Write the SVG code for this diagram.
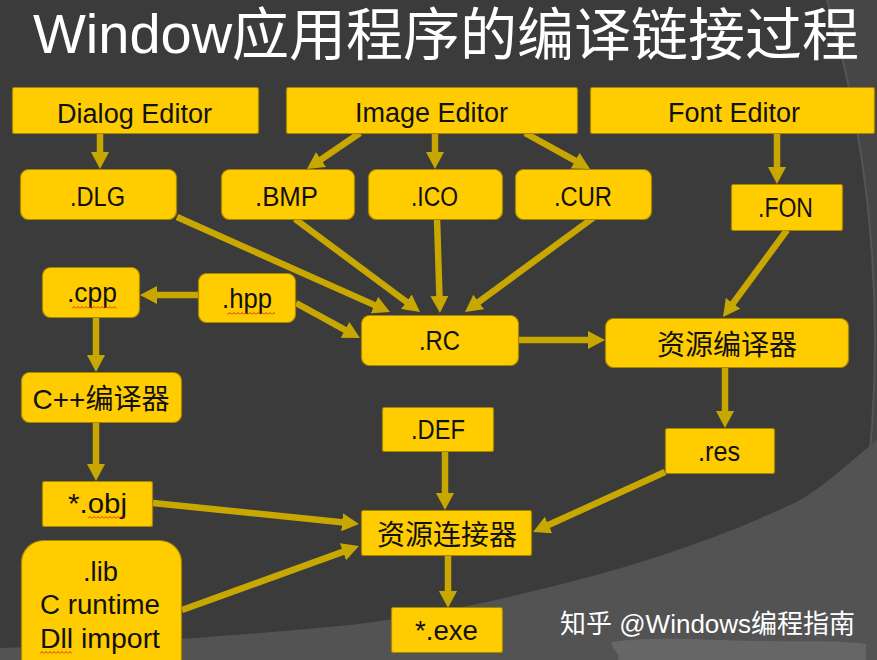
<svg xmlns="http://www.w3.org/2000/svg" width="877" height="660" viewBox="0 0 877 660">
<defs>
<style>
.box{fill:#ffcc00;stroke:#a88700;stroke-width:1.2}
.t{font-family:"Liberation Sans","Noto Sans CJK SC",sans-serif;font-size:27px;fill:#111}
.cj{font-family:"Liberation Sans","Noto Sans CJK SC",sans-serif;font-size:28px;fill:#111;text-anchor:middle}
.conn{stroke:#c8a800;stroke-width:6.5;fill:none;marker-end:url(#ah)}
</style>
<marker id="ah" viewBox="0 0 17 18" refX="2" refY="9" markerWidth="17" markerHeight="18" markerUnits="userSpaceOnUse" orient="auto">
<path d="M0,0 L17,9 L0,18 z" fill="#c8a800"/>
</marker>
<pattern id="sq" width="4" height="3" patternUnits="userSpaceOnUse">
<path d="M0,2.5 L2,0.5 L4,2.5" stroke="#d02020" stroke-width="0.9" fill="none"/>
</pattern>
</defs>

<!-- background -->
<rect width="877" height="660" fill="#464646"/>
<circle cx="-353" cy="340" r="1228" fill="#3b3b3b" stroke="#555555" stroke-width="2"/>
<path d="M0,648 C117,645 233,636 350,625 C423,617 497,601 570,582 C643,563 717,539 790,505 C819,492 848,463 877,440 L877,660 L0,660 Z" fill="#535353"/>
<path d="M612,642 C650,636 700,640 760,641 C800,642 840,640 866,644 L866,660 L618,660 C622,654 610,648 612,642 Z" fill="#6a6a6a" opacity="0.85"/>

<!-- title -->
<text x="33" y="53" font-family="Liberation Sans, sans-serif" font-size="56" fill="#ffffff">Window</text>
<text x="232" y="55" font-family="Noto Sans CJK SC, sans-serif" font-size="57" fill="#ffffff">应用程序的编译链接过程</text>

<!-- connectors -->
<g id="connectors">
<line class="conn" x1="100" y1="134" x2="100" y2="154"/>
<line class="conn" x1="360" y1="133" x2="319.4" y2="160.6"/>
<line class="conn" x1="435" y1="133" x2="435" y2="154"/>
<line class="conn" x1="525" y1="133" x2="576.9" y2="161.7"/>
<line class="conn" x1="777" y1="133" x2="777" y2="169"/>
<line class="conn" x1="177" y1="217" x2="376.3" y2="305.9"/>
<line class="conn" x1="295" y1="219" x2="408" y2="303"/>
<line class="conn" x1="437" y1="219" x2="439.5" y2="298"/>
<line class="conn" x1="597" y1="215" x2="477.1" y2="303.1"/>
<line class="conn" x1="198" y1="295" x2="155" y2="295"/>
<line class="conn" x1="296" y1="303" x2="346.8" y2="330.8"/>
<line class="conn" x1="519" y1="340" x2="590" y2="340"/>
<line class="conn" x1="787" y1="230" x2="731.9" y2="304.9"/>
<line class="conn" x1="96" y1="318" x2="96" y2="357"/>
<line class="conn" x1="725" y1="367" x2="725" y2="413"/>
<line class="conn" x1="96" y1="423" x2="96" y2="466"/>
<line class="conn" x1="445" y1="452" x2="445" y2="495"/>
<line class="conn" x1="665" y1="472" x2="546.7" y2="525.8"/>
<line class="conn" x1="153" y1="503" x2="344.1" y2="522.5"/>
<line class="conn" x1="182" y1="610" x2="344.9" y2="551.1"/>
<line class="conn" x1="448" y1="556" x2="448" y2="593"/>
</g>

<!-- nodes -->
<g id="dialog-editor">
<rect class="box" x="12.5" y="87.5" width="246" height="46" rx="2"/>
<text class="t" x="57" y="123" textLength="155" lengthAdjust="spacingAndGlyphs">Dialog Editor</text>
</g>
<g id="image-editor">
<rect class="box" x="286.5" y="87.5" width="291" height="46" rx="2"/>
<text class="t" x="355" y="122" textLength="153" lengthAdjust="spacingAndGlyphs">Image Editor</text>
</g>
<g id="font-editor">
<rect class="box" x="590.5" y="87.5" width="284" height="46" rx="2"/>
<text class="t" x="668" y="122" textLength="132" lengthAdjust="spacingAndGlyphs">Font Editor</text>
</g>
<g id="dlg">
<rect class="box" x="20.5" y="169.5" width="156" height="50" rx="8"/>
<text class="t" x="70" y="206" textLength="55" lengthAdjust="spacingAndGlyphs">.DLG</text>
</g>
<g id="bmp">
<rect class="box" x="221.5" y="169.5" width="133" height="50" rx="8"/>
<text class="t" x="255" y="206" textLength="63" lengthAdjust="spacingAndGlyphs">.BMP</text>
</g>
<g id="ico">
<rect class="box" x="368.5" y="169.5" width="134" height="50" rx="8"/>
<text class="t" x="411" y="206" textLength="47" lengthAdjust="spacingAndGlyphs">.ICO</text>
</g>
<g id="cur">
<rect class="box" x="515.5" y="169.5" width="136" height="50" rx="8"/>
<text class="t" x="554" y="206" textLength="58" lengthAdjust="spacingAndGlyphs">.CUR</text>
</g>
<g id="fon">
<rect class="box" x="731.5" y="184.5" width="111" height="46" rx="2"/>
<text class="t" x="758" y="217" textLength="55" lengthAdjust="spacingAndGlyphs">.FON</text>
</g>
<g id="cpp">
<rect class="box" x="42.5" y="267.5" width="97" height="50" rx="8"/>
<text class="t" x="67" y="302" textLength="50" lengthAdjust="spacingAndGlyphs">.cpp</text>
<rect x="72" y="306" width="45" height="3" fill="url(#sq)"/>
</g>
<g id="hpp">
<rect class="box" x="198.5" y="273.5" width="97" height="49" rx="8"/>
<text class="t" x="222" y="308" textLength="50" lengthAdjust="spacingAndGlyphs">.hpp</text>
<rect x="227" y="312" width="48" height="3" fill="url(#sq)"/>
</g>
<g id="rc">
<rect class="box" x="361.5" y="315.5" width="157" height="50" rx="8"/>
<text class="t" x="419" y="350" textLength="41" lengthAdjust="spacingAndGlyphs">.RC</text>
</g>
<g id="res-compiler">
<rect class="box" x="605.5" y="318.5" width="243" height="49" rx="8"/>
<text class="cj" x="727" y="355">资源编译器</text>
</g>
<g id="cpp-compiler">
<rect class="box" x="21.5" y="372.5" width="160" height="50" rx="8"/>
<text class="cj" x="101" y="409">C++编译器</text>
</g>
<g id="def">
<rect class="box" x="382.5" y="407.5" width="111" height="44" rx="2"/>
<text class="t" x="411" y="439" textLength="54" lengthAdjust="spacingAndGlyphs">.DEF</text>
</g>
<g id="res">
<rect class="box" x="665.5" y="428.5" width="109" height="45" rx="2"/>
<text class="t" x="698" y="461" textLength="42" lengthAdjust="spacingAndGlyphs">.res</text>
</g>
<g id="obj">
<rect class="box" x="42.5" y="481.5" width="110" height="45" rx="2"/>
<text class="t" x="68" y="513" textLength="59" lengthAdjust="spacingAndGlyphs">*.obj</text>
<rect x="88" y="516" width="37" height="3" fill="url(#sq)"/>
</g>
<g id="linker">
<rect class="box" x="361.5" y="510.5" width="170" height="45" rx="2"/>
<text class="cj" x="447" y="545">资源连接器</text>
</g>
<g id="lib">
<rect class="box" x="21.5" y="540.5" width="160" height="140" rx="22"/>
<text class="t" x="83" y="581" textLength="35" lengthAdjust="spacingAndGlyphs">.lib</text>
<text class="t" x="40" y="614" textLength="120" lengthAdjust="spacingAndGlyphs">C runtime</text>
<text class="t" x="40" y="648" textLength="120" lengthAdjust="spacingAndGlyphs">Dll import</text>
<rect x="40" y="651" width="32" height="3" fill="url(#sq)"/>
</g>
<g id="exe">
<rect class="box" x="391.5" y="607.5" width="111" height="45" rx="2"/>
<text class="t" x="415" y="640" textLength="63" lengthAdjust="spacingAndGlyphs">*.exe</text>
</g>

<!-- watermark -->
<text x="560" y="633" font-family="Liberation Sans, Noto Sans CJK SC, sans-serif" font-size="26" fill="#ffffff">知乎 @Windows编程指南</text>
</svg>
